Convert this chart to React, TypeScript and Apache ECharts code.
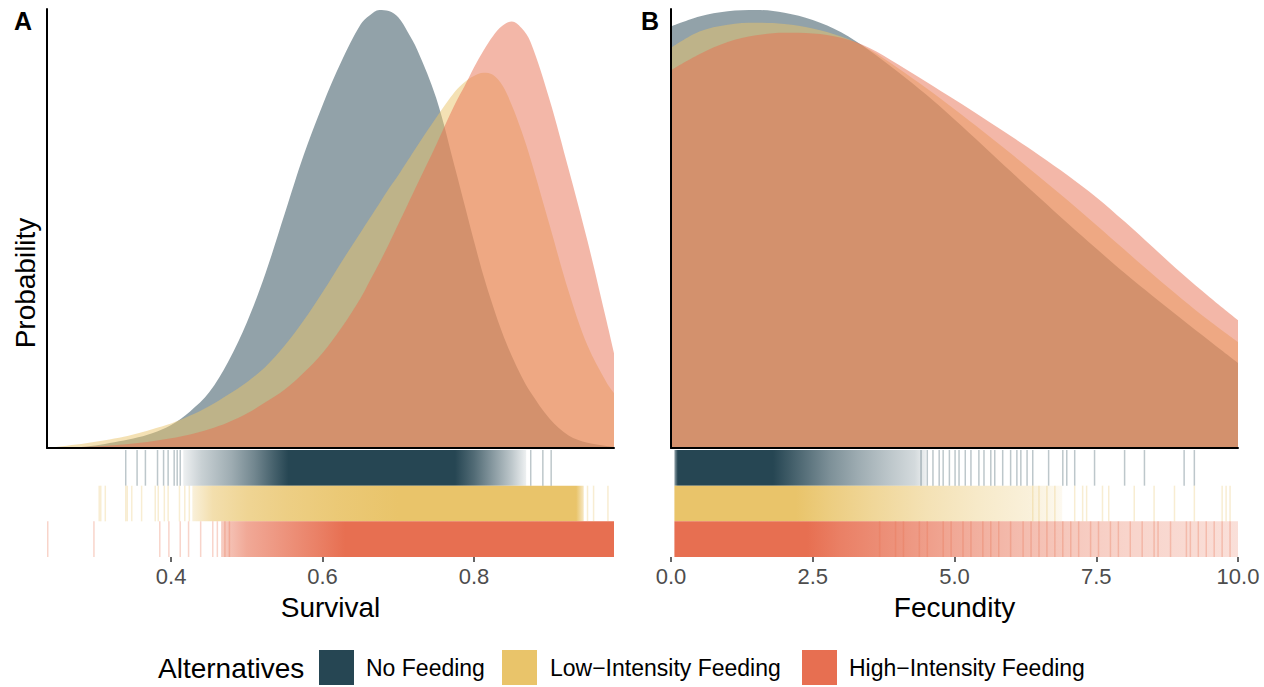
import React, { useEffect, useRef } from "react";
import * as echarts from "echarts";

// Groups and palette
const groups = ["No Feeding", "Low\u2212Intensity Feeding", "High\u2212Intensity Feeding"];
const groupColors = ["#264653", "#E9C46A", "#E76F51"];

// Axis ticks
const survivalTicks = [0.4, 0.6, 0.8];
const fecundityTicks = [0, 2.5, 5, 7.5, 10];

// Survival grid and posterior densities
const survivalX = [
  0.236, 0.25, 0.275, 0.3, 0.325, 0.35, 0.375, 0.4, 0.425, 0.45, 0.475, 0.5, 0.525, 0.55, 0.575, 0.6,
  0.625, 0.65, 0.6625, 0.675, 0.6875, 0.7, 0.7125, 0.725, 0.75, 0.775, 0.7875, 0.8, 0.8125, 0.825,
  0.8375, 0.85, 0.8625, 0.875, 0.9, 0.925, 0.95, 0.975, 0.985,
];
const survivalNoFeeding = [
  0, 0.001, 0.006, 0.025, 0.055, 0.09, 0.14, 0.22, 0.35, 0.53, 0.82, 1.2, 1.68, 2.24, 2.8, 3.28,
  3.7, 4.05, 4.14, 4.19, 4.18, 4.12, 3.98, 3.81, 3.35, 2.68, 2.33, 1.98, 1.65, 1.36,
  1.1, 0.88, 0.69, 0.53, 0.28, 0.12, 0.05, 0.02, 0.01,
];
const survivalLowFeeding = [
  0, 0.012, 0.033, 0.06, 0.09, 0.13, 0.18, 0.235, 0.31, 0.4, 0.51, 0.63, 0.78, 0.98, 1.22, 1.49,
  1.78, 2.06, 2.2, 2.34, 2.48, 2.61, 2.75, 2.89, 3.16, 3.41, 3.5, 3.56, 3.59, 3.57,
  3.47, 3.28, 3.04, 2.76, 2.13, 1.5, 0.98, 0.63, 0.526,
];
const survivalHighFeeding = [
  0, 0.003, 0.009, 0.015, 0.026, 0.042, 0.065, 0.094, 0.13, 0.18, 0.245, 0.33, 0.44, 0.56, 0.72, 0.91,
  1.15, 1.43, 1.6, 1.77, 1.95, 2.14, 2.33, 2.52, 2.9, 3.29, 3.46, 3.64, 3.8, 3.94,
  4.04, 4.08, 4.02, 3.88, 3.33, 2.67, 1.98, 1.22, 0.91,
];

// Fecundity grid and posterior densities
const fecundityX = [0, 0.5, 1, 1.5, 2, 2.5, 3, 3.5, 4, 4.5, 5, 5.5, 6, 6.5, 7, 7.5, 8, 8.5, 9, 9.5, 10];
const fecundityNoFeeding = [
  0.1344, 0.1376, 0.1393, 0.1397, 0.1388, 0.1365, 0.1326, 0.1268, 0.12, 0.1127, 0.1048,
  0.0965, 0.0881, 0.0798, 0.0716, 0.0636, 0.0558, 0.0484, 0.0412, 0.0341, 0.0271,
];
const fecundityLowFeeding = [
  0.1276, 0.1328, 0.135, 0.1356, 0.1352, 0.1338, 0.1312, 0.1271, 0.1212, 0.1148, 0.108,
  0.101, 0.0938, 0.0864, 0.0789, 0.0711, 0.0632, 0.0553, 0.0477, 0.0405, 0.0338,
];
const fecundityHighFeeding = [
  0.1205, 0.1256, 0.1295, 0.1316, 0.1324, 0.1322, 0.1308, 0.1276, 0.1224, 0.1168, 0.1111,
  0.1053, 0.0994, 0.0933, 0.0869, 0.08, 0.0722, 0.064, 0.0558, 0.0481, 0.0408,
];

// Rug strips: dense cores as [value, opacity] stops, sparse draws as single values
const survivalBandNoFeeding = [[0.416, 0.08], [0.44, 0.25], [0.48, 0.45], [0.51, 0.65], [0.535, 0.85], [0.555, 1], [0.775, 1], [0.8, 0.8], [0.825, 0.55], [0.85, 0.3], [0.869, 0.08]];
const survivalBandLowFeeding = [[0.428, 0.25], [0.455, 0.55], [0.5, 0.72], [0.55, 0.82], [0.62, 0.92], [0.7, 1], [0.935, 1], [0.945, 0.4]];
const survivalBandHighFeeding = [[0.466, 0.35], [0.5, 0.6], [0.55, 0.75], [0.6, 0.9], [0.63, 1], [0.985, 1]];
const survivalDrawsNoFeeding = [0.34, 0.355, 0.366, 0.382, 0.39, 0.396, 0.404, 0.408, 0.412, 0.875, 0.891, 0.902];
const survivalDrawsLowFeeding = [0.305, 0.307, 0.313, 0.34, 0.342, 0.348, 0.361, 0.379, 0.383, 0.391, 0.396, 0.411, 0.418, 0.424, 0.95, 0.958, 0.977];
const survivalDrawsHighFeeding = [0.237, 0.298, 0.385, 0.397, 0.412, 0.423, 0.439, 0.455, 0.461, 0.471, 0.477];

const fecundityBandNoFeeding = [[0.06, 0.5], [0.12, 1], [1.8, 1], [2.3, 0.8], [2.8, 0.6], [3.3, 0.45], [3.8, 0.32], [4.3, 0.2], [4.5, 0.08]];
const fecundityBandLowFeeding = [[0.06, 1], [2.2, 1], [2.8, 0.85], [3.5, 0.7], [4.5, 0.5], [5.5, 0.35], [6.3, 0.25], [6.9, 0.1]];
const fecundityBandHighFeeding = [[0.06, 1], [2.4, 1], [3.0, 0.88], [4.0, 0.75], [5.0, 0.6], [6.0, 0.48], [7.0, 0.38], [8.0, 0.3], [9.0, 0.26], [10, 0.22]];
const fecundityDrawsNoFeeding = [4.41, 4.52, 4.62, 4.73, 4.8, 4.91, 5.01, 5.08, 5.19, 5.29, 5.43, 5.52, 5.64, 5.71, 5.85, 5.99, 6.1, 6.17, 6.28, 6.38, 6.66, 6.91, 6.98, 7.12, 7.47, 8.0, 8.35, 9.05, 9.23];
const fecundityDrawsLowFeeding = [6.38, 6.49, 6.63, 6.77, 7.12, 7.26, 7.33, 7.61, 7.72, 8.17, 8.52, 8.88, 9.23, 9.72, 9.79, 9.86];
const fecundityDrawsHighFeeding = [3.68, 3.96, 4.1, 4.38, 4.52, 4.8, 4.94, 5.15, 5.29, 5.5, 5.64, 5.78, 5.99, 6.21, 6.35, 6.49, 6.63, 6.77, 6.91, 7.05, 7.19, 7.4, 7.54, 7.75, 7.89, 8.1, 8.31, 8.52, 8.59, 8.81, 9.09, 9.16, 9.3, 9.44, 9.58, 9.72, 9.86];

const FONT = '"Liberation Sans", Arial, Helvetica, sans-serif';

const rgba = (hex: string, a: number) => {
  const n = parseInt(hex.slice(1), 16);
  return `rgba(${n >> 16},${(n >> 8) & 255},${n & 255},${a})`;
};

function densitySeries(xs: number[], ys: number[], gi: number, axis: number) {
  return {
    type: "line",
    name: groups[gi],
    xAxisIndex: axis,
    yAxisIndex: axis,
    data: xs.map((x, i) => [x, ys[i]]),
    smooth: 0.35,
    showSymbol: false,
    symbol: "none",
    silent: true,
    lineStyle: { width: 0, opacity: 0 },
    itemStyle: { color: groupColors[gi] },
    areaStyle: { color: groupColors[gi], opacity: 0.5 },
  };
}

function bandSeries(stops: number[][], gi: number, row: number, axis: number) {
  const s = stops[0][0];
  const e = stops[stops.length - 1][0];
  const color = groupColors[gi];
  return {
    type: "custom",
    name: groups[gi],
    xAxisIndex: axis,
    yAxisIndex: axis,
    silent: true,
    clip: true,
    data: [[s, row, e]],
    renderItem: (_p: any, api: any) => {
      const p0 = api.coord([api.value(0), api.value(1) + 1]);
      const p1 = api.coord([api.value(2), api.value(1)]);
      return {
        type: "rect",
        shape: { x: p0[0], y: p0[1], width: p1[0] - p0[0], height: p1[1] - p0[1] },
        style: {
          fill: new echarts.graphic.LinearGradient(
            0, 0, 1, 0,
            stops.map(([v, o]) => ({ offset: (v - s) / (e - s), color: rgba(color, o) }))
          ),
        },
      };
    },
  };
}

function drawSeries(values: number[], gi: number, row: number, axis: number) {
  return {
    type: "custom",
    name: groups[gi],
    xAxisIndex: axis,
    yAxisIndex: axis,
    silent: true,
    clip: true,
    data: values.map((v) => [v, row]),
    renderItem: (_p: any, api: any) => {
      const p = api.coord([api.value(0), api.value(1) + 1]);
      const h = api.size([0, 1])[1];
      return {
        type: "rect",
        shape: { x: p[0] - 0.75, y: p[1], width: 1.5, height: h },
        style: { fill: groupColors[gi], opacity: 0.3 },
      };
    },
  };
}

const frameAxis = { color: "#000", width: 2 };

function densityX(grid: number, min: number, max: number) {
  return {
    type: "value", gridIndex: grid, min, max, z: 5,
    axisLine: { show: true, lineStyle: frameAxis },
    axisTick: { show: false }, axisLabel: { show: false }, splitLine: { show: false },
  };
}
function densityY(grid: number, max: number) {
  return {
    type: "value", gridIndex: grid, min: 0, max, z: 5,
    axisLine: { show: true, lineStyle: frameAxis },
    axisTick: { show: false }, axisLabel: { show: false }, splitLine: { show: false },
  };
}
function rugX(grid: number, min: number, max: number, ticks: number[]) {
  return {
    type: "value", gridIndex: grid, min, max,
    axisLine: { show: false },
    axisTick: { show: true, length: 5, customValues: ticks, lineStyle: { color: "#333333", width: 1.5 } },
    axisLabel: {
      show: true, customValues: ticks, margin: 8, color: "#4D4D4D", fontSize: 22, fontFamily: FONT,
      formatter: (v: number) => v.toFixed(1),
    },
    splitLine: { show: false },
  };
}
function rugY(grid: number) {
  return { type: "value", gridIndex: grid, min: 0, max: 3, show: false };
}

function text(x: number, y: number, t: string, size: number, extra: any = {}) {
  return {
    type: "text", x, y, silent: true,
    style: { text: t, fontSize: size, fontFamily: FONT, fill: "#000", align: "left", verticalAlign: "middle", ...extra },
  };
}

export default function App() {
  const ref = useRef<HTMLDivElement>(null);

  useEffect(() => {
    if (!ref.current) return;
    const chart = echarts.init(ref.current, undefined, { renderer: "svg" });

    const legendKeys = [319, 502, 802];
    const legendLabels = [366, 550, 849];

    chart.setOption({
      animation: false,
      backgroundColor: "#fff",
      grid: [
        { left: 47, top: 9, width: 567, height: 439 },
        { left: 671, top: 9, width: 567, height: 439 },
        { left: 47, top: 450, width: 567, height: 107 },
        { left: 671, top: 450, width: 567, height: 107 },
      ],
      xAxis: [
        densityX(0, 0.236, 0.985),
        densityX(1, 0, 10),
        rugX(2, 0.236, 0.985, survivalTicks),
        rugX(3, 0, 10, fecundityTicks),
      ],
      yAxis: [densityY(0, 4.2), densityY(1, 0.14), rugY(2), rugY(3)],
      series: [
        densitySeries(survivalX, survivalNoFeeding, 0, 0),
        densitySeries(survivalX, survivalLowFeeding, 1, 0),
        densitySeries(survivalX, survivalHighFeeding, 2, 0),
        densitySeries(fecundityX, fecundityNoFeeding, 0, 1),
        densitySeries(fecundityX, fecundityLowFeeding, 1, 1),
        densitySeries(fecundityX, fecundityHighFeeding, 2, 1),
        bandSeries(survivalBandNoFeeding, 0, 2, 2),
        bandSeries(survivalBandLowFeeding, 1, 1, 2),
        bandSeries(survivalBandHighFeeding, 2, 0, 2),
        drawSeries(survivalDrawsNoFeeding, 0, 2, 2),
        drawSeries(survivalDrawsLowFeeding, 1, 1, 2),
        drawSeries(survivalDrawsHighFeeding, 2, 0, 2),
        bandSeries(fecundityBandNoFeeding, 0, 2, 3),
        bandSeries(fecundityBandLowFeeding, 1, 1, 3),
        bandSeries(fecundityBandHighFeeding, 2, 0, 3),
        drawSeries(fecundityDrawsNoFeeding, 0, 2, 3),
        drawSeries(fecundityDrawsLowFeeding, 1, 1, 3),
        drawSeries(fecundityDrawsHighFeeding, 2, 0, 3),
      ],
      graphic: [
        text(23, 21, "A", 25, { fontWeight: "bold", align: "center" }),
        text(650, 21, "B", 25, { fontWeight: "bold", align: "center" }),
        text(330.5, 607, "Survival", 28, { align: "center" }),
        text(954.5, 607, "Fecundity", 28, { align: "center" }),
        {
          type: "text", x: 25, y: 283, rotation: Math.PI / 2, silent: true,
          style: { text: "Probability", fontSize: 28, fontFamily: FONT, fill: "#000", align: "center", verticalAlign: "middle" },
        },
        text(158, 668, "Alternatives", 28),
        ...groups.flatMap((g, i) => [
          { type: "rect", silent: true, shape: { x: legendKeys[i], y: 650, width: 35, height: 35 }, style: { fill: groupColors[i] } },
          text(legendLabels[i], 668, g, 23),
        ]),
      ],
    });

    return () => chart.dispose();
  }, []);

  return <div ref={ref} style={{ position: "absolute", left: 0, top: 0, width: 1264, height: 687 }} />;
}
